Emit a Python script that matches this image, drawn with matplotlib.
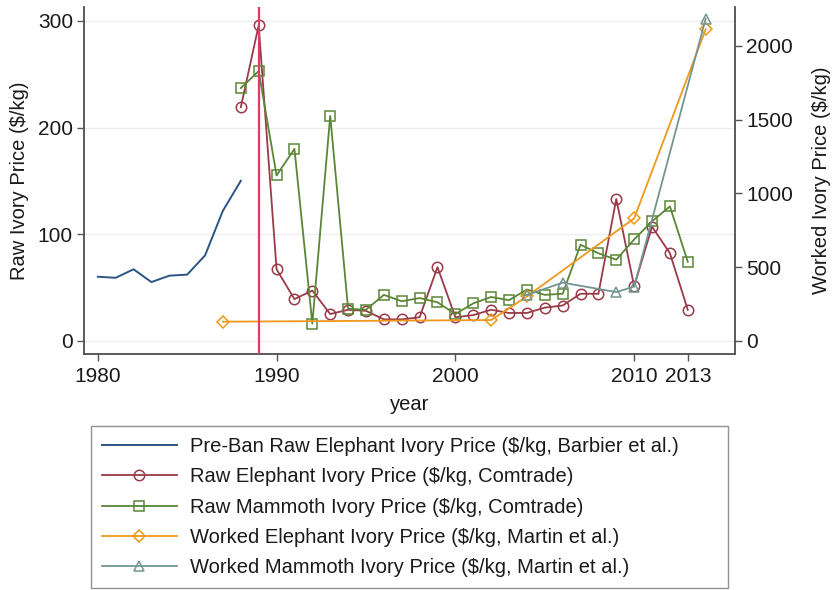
import matplotlib

matplotlib.use("Agg")

import matplotlib.pyplot as plt
from matplotlib.lines import Line2D

plt.rcParams["font.family"] = ["Liberation Sans", "DejaVu Sans"]

COLORS = {
    "navy": "#2B5584",
    "maroon": "#9A3A48",
    "green": "#5A8636",
    "orange": "#EE981C",
    "teal": "#739690",
    "ban": "#DE3A6C",
    "axis": "#555555",
    "grid": "#EEEEEE",
    "ink": "#1A1A1A",
}

# Pre-ban raw elephant ivory (Barbier et al.), $/kg
preban_years = [1980, 1981, 1982, 1983, 1984, 1985, 1986, 1987, 1988]
preban_price = [60, 59, 67, 55, 61, 62, 80, 122, 150]

# Raw elephant ivory (Comtrade), $/kg
raw_eleph_years = list(range(1988, 2014))
raw_eleph_price = [219, 296, 67, 39, 47, 25, 29, 28, 20, 20, 22, 69, 22, 24,
                   29, 26, 26, 31, 33, 44, 44, 133, 51, 107, 82, 29]

# Raw mammoth ivory (Comtrade), $/kg
raw_mamm_years = list(range(1988, 2014))
raw_mamm_price = [237, 253, 155, 180, 16, 211, 30, 29, 43, 37, 40, 36, 25, 35,
                  41, 38, 48, 43, 44, 90, 82, 76, 95, 112, 126, 74]

# Worked ivory (Martin et al.), $/kg on the right axis
worked_eleph_years = [1987, 2002, 2004, 2010, 2014]
worked_eleph_price = [129, 140, 300, 830, 2113]
worked_mamm_years = [2004, 2006, 2009, 2010, 2014]
worked_mamm_price = [310, 394, 330, 367, 2186]

ban_year = 1989

left_ticks = [0, 100, 200, 300]
right_ticks = [0, 500, 1000, 1500, 2000]
year_ticks = [1980, 1990, 2000, 2010, 2013]

labels = [
    "Pre-Ban Raw Elephant Ivory Price ($/kg, Barbier et al.)",
    "Raw Elephant Ivory Price ($/kg, Comtrade)",
    "Raw Mammoth Ivory Price ($/kg, Comtrade)",
    "Worked Elephant Ivory Price ($/kg, Martin et al.)",
    "Worked Mammoth Ivory Price ($/kg, Martin et al.)",
]

W, H = 834, 590
fig = plt.figure(figsize=(W / 100, H / 100), dpi=100)
ax = fig.add_axes([84 / W, 1 - 354 / H, (735 - 84) / W, (354 - 7) / H])
ax2 = ax.twinx()

line_kw = dict(linewidth=1.3, markersize=7.5, markerfacecolor="none",
               markeredgewidth=1.1)
diamond_kw = {**line_kw, "markersize": 6.5}

ax.plot(preban_years, preban_price, color=COLORS["navy"], linewidth=1.4)
ax.plot(raw_eleph_years, raw_eleph_price, color=COLORS["maroon"], marker="o",
        **line_kw)
ax.plot(raw_mamm_years, raw_mamm_price, color=COLORS["green"], marker="s",
        **line_kw)
ax2.plot(worked_eleph_years, worked_eleph_price, color=COLORS["orange"],
         marker="D", **diamond_kw)
ax2.plot(worked_mamm_years, worked_mamm_price, color=COLORS["teal"],
         marker="^", **line_kw)
ax2.axvline(ban_year, color=COLORS["ban"], linewidth=1.6, zorder=5)

ax.set_xlim(1979.23, 2015.64)
ax.set_ylim(-12.5, 313.1)
ax2.set_ylim(-90.3, 2264.6)

ax.set_xticks(year_ticks)
ax.set_yticks(left_ticks)
ax2.set_yticks(right_ticks)
ax.grid(axis="y", color=COLORS["grid"], linewidth=1.0)
ax.set_axisbelow(True)

for axis in (ax, ax2):
    axis.spines["top"].set_visible(False)
    for side in ("left", "right", "bottom"):
        axis.spines[side].set_color(COLORS["axis"])
        axis.spines[side].set_linewidth(1.1)
    axis.tick_params(colors=COLORS["axis"], labelcolor=COLORS["ink"],
                     length=5, width=1.0, labelsize=15, pad=3)
ax.tick_params(axis="x", pad=4)

ax.set_ylabel("Raw Ivory Price ($/kg)", fontsize=14.5, color=COLORS["ink"],
              labelpad=6)
ax2.set_ylabel("Worked Ivory Price ($/kg)", fontsize=14.5,
               color=COLORS["ink"], labelpad=14)
ax.set_xlabel("year", fontsize=14.5, color=COLORS["ink"], labelpad=7)

handles = [
    Line2D([], [], color=COLORS["navy"], linewidth=1.4),
    Line2D([], [], color=COLORS["maroon"], marker="o", **line_kw),
    Line2D([], [], color=COLORS["green"], marker="s", **line_kw),
    Line2D([], [], color=COLORS["orange"], marker="D", **diamond_kw),
    Line2D([], [], color=COLORS["teal"], marker="^", **line_kw),
]
legend_top = 1 - 426 / H
leg = fig.legend(
    handles, labels,
    loc="upper left",
    bbox_to_anchor=(91 / W, 0, (728 - 91) / W, legend_top),
    mode="expand",
    fontsize=14.5,
    frameon=True,
    fancybox=False,
    edgecolor="#777777",
    handlelength=3.7,
    handletextpad=0.65,
    labelspacing=0.56,
    borderpad=0.55,
    borderaxespad=0,
)
leg.get_frame().set_linewidth(1.0)
for text in leg.get_texts():
    text.set_color(COLORS["ink"])

fig.savefig("out.png", dpi=100)
